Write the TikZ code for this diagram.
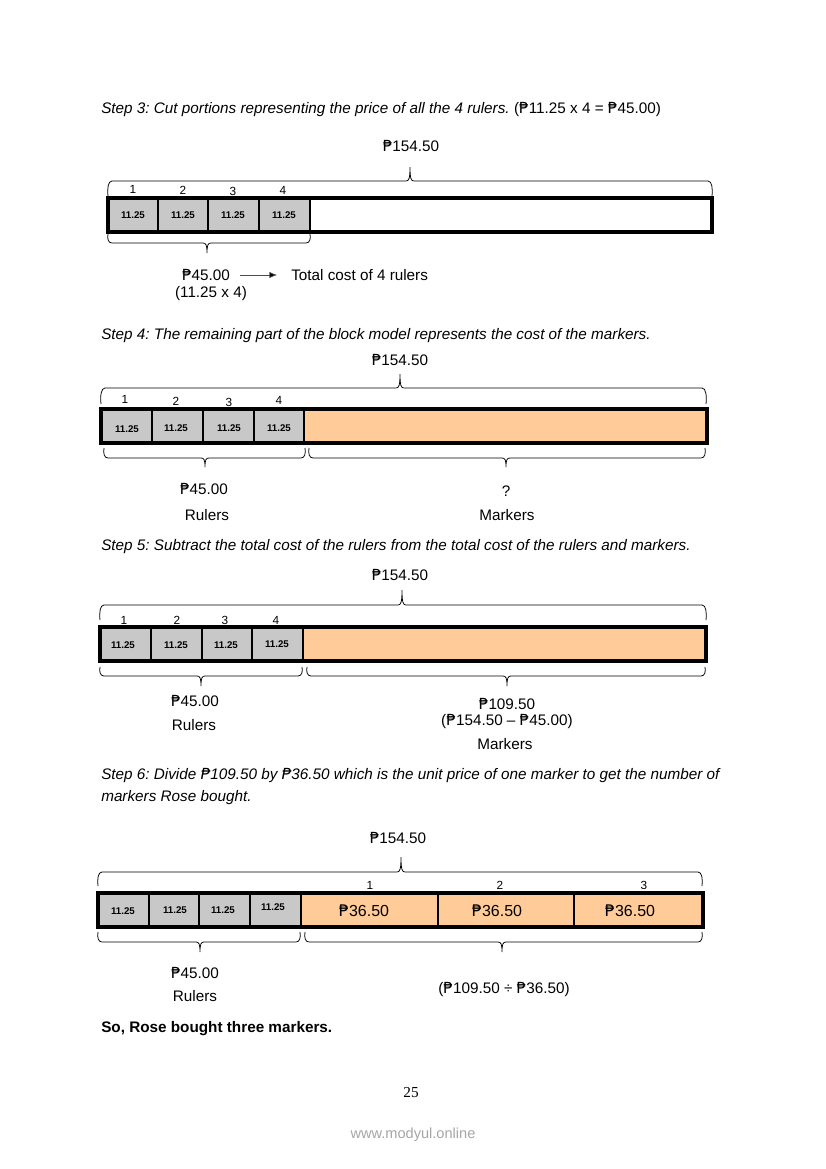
\documentclass[tikz,border=0pt]{standalone}
\usepackage{fontspec}
\setmainfont{Liberation Sans}
\newfontfamily\dejavu{DejaVu Sans}
\newfontfamily\pagefont{Liberation Serif}
\newcommand\peso{{\dejavu\char"20B1}}
\usetikzlibrary{arrows.meta}
\definecolor{cellgray}{HTML}{C8C8C8}
\definecolor{cellorange}{HTML}{FFCC99}
% brace: x1, x2, xtip, yline, yend, ytip
\newcommand\pbrace[6]{\draw[bracestyle] (#1,#5) .. controls ({#1-0.8},{#4+0.5*(#5-#4)}) and (#1,#4) .. ({#1+4},#4) -- ({#3-4},#4) .. controls ({#3-1},#4) and (#3,{#4+0.2*(#6-#4)}) .. (#3,#6) .. controls (#3,{#4+0.2*(#6-#4)}) and ({#3+1},#4) .. ({#3+4},#4) -- ({#2-4},#4) .. controls (#2,#4) and ({#2+0.8},{#4+0.5*(#5-#4)}) .. (#2,#5);}
\frenchspacing
\begin{document}
\begin{tikzpicture}[x=0.72pt,y=-0.72pt,
  body/.style={inner sep=0pt, font=\fontsize{11}{13}\selectfont},
  title/.style={inner sep=0pt, anchor=base west, font=\itshape\fontsize{11}{13}\selectfont},
  num/.style={inner sep=0pt, font=\fontsize{8.5}{10}\selectfont},
  val/.style={inner sep=0pt, font=\bfseries\fontsize{7}{8}\selectfont},
  big/.style={inner sep=0pt, font=\fontsize{11.5}{13}\selectfont},
  grayc/.style={fill=cellgray, draw=black, line width=1.4pt},
  orc/.style={fill=cellorange, draw=black, line width=1.4pt},
  whc/.style={fill=white, draw=black, line width=1.4pt},
  outerbox/.style={draw=black, line width=2.2pt},
  bracestyle/.style={line width=0.55pt},
]
\useasboundingbox[fill=white] (0,0) rectangle (826,1169);

% ---------------- Step 3 ----------------
\node[title] (t3) at (101,113) {Step 3: Cut portions representing the price of all the 4 rulers.\upshape{} (\peso11.25 x 4 = \peso45.00)};
\node[body] (d1tot) at (411,146) {\peso154.50};
\pbrace{108}{712}{410}{181}{196}{167}
\node[num] (d1n1) at (133,189) {1};
\node[num] (d1n2) at (183,190) {2};
\node[num] (d1n3) at (233,191) {3};
\node[num] (d1n4) at (283,190) {4};
\draw[grayc] (108,198) rectangle (158,232);
\draw[grayc] (158,198) rectangle (208,232);
\draw[grayc] (208,198) rectangle (259,232);
\draw[grayc] (259,198) rectangle (310,232);
\draw[whc] (310,198) rectangle (712,232);
\draw[outerbox] (108,198) rectangle (712,232);
\node[val] (d1v1) at (133,215) {11.25};
\node[val] (d1v2) at (183,215) {11.25};
\node[val] (d1v3) at (233,215) {11.25};
\node[val] (d1v4) at (284,215) {11.25};
\pbrace{108}{310}{207}{243}{234}{253}
\node[body] (d1sum) at (206,275) {\peso45.00};
\node[body, anchor=west] (d1txt) at (291,275) {Total cost of 4 rulers};
\node[body] (d1calc) at (211,294) {(11.25 x 4)};
\draw[line width=0.5pt, draw=black!70, -{Latex[length=5.5pt,width=4.5pt,fill=black]}, shorten <=7pt, shorten >=10pt] (d1sum.east) -- (d1txt.west);

% ---------------- Step 4 ----------------
\node[title] (t4) at (101,339) {Step 4: The remaining part of the block model represents the cost of the markers.};
\node[body] (d2tot) at (400,360) {\peso154.50};
\pbrace{101}{706}{400}{388}{404}{374}
\node[num] (d2n1) at (125,399) {1};
\node[num] (d2n2) at (176,401) {2};
\node[num] (d2n3) at (229,402) {3};
\node[num] (d2n4) at (279,400) {4};
\draw[grayc] (101,409) rectangle (152,443);
\draw[grayc] (152,409) rectangle (203,443);
\draw[grayc] (203,409) rectangle (254,443);
\draw[grayc] (254,409) rectangle (304,443);
\draw[orc] (304,409) rectangle (707,443);
\draw[outerbox] (101,409) rectangle (707,443);
\node[val] (d2v1) at (127,429) {11.25};
\node[val] (d2v2) at (176,428) {11.25};
\node[val] (d2v3) at (229,428) {11.25};
\node[val] (d2v4) at (279,428) {11.25};
\pbrace{104}{305}{205}{458}{448}{467}
\pbrace{309}{705}{506}{458}{448}{467}
\node[body] (d2sum) at (204,489) {\peso45.00};
\node[body] (d2q) at (506,491) {?};
\node[body] (d2r) at (207,515) {Rulers};
\node[body] (d2m) at (507,515) {Markers};

% ---------------- Step 5 ----------------
\node[title] (t5) at (101,550) {Step 5: Subtract the total cost of the rulers from the total cost of the rulers and markers.};
\node[body] (d3tot) at (400,575) {\peso154.50};
\pbrace{100}{706}{402}{605}{620}{590}
\node[num] (d3n1) at (124,620) {1};
\node[num] (d3n2) at (177,620) {2};
\node[num] (d3n3) at (225,620) {3};
\node[num] (d3n4) at (276,620) {4};
\draw[grayc] (100,627) rectangle (151,661);
\draw[grayc] (151,627) rectangle (202,661);
\draw[grayc] (202,627) rectangle (252,661);
\draw[grayc] (252,627) rectangle (303,661);
\draw[orc] (303,627) rectangle (706,661);
\draw[outerbox] (100,627) rectangle (706,661);
\node[val] (d3v1) at (123,645) {11.25};
\node[val] (d3v2) at (176,645) {11.25};
\node[val] (d3v3) at (226,645) {11.25};
\node[val] (d3v4) at (277,644) {11.25};
\pbrace{100}{302}{201}{676}{667}{686}
\pbrace{307}{705}{507}{676}{667}{686}
\node[body] (d3sum) at (195,701) {\peso45.00};
\node[body] (d3r) at (194,725) {Rulers};
\node[body] (d3diff) at (507,704) {\peso109.50};
\node[body] (d3calc) at (507,722) {(\peso154.50 -- \peso45.00)};
\node[body] (d3m) at (505,744) {Markers};

% ---------------- Step 6 ----------------
\node[title] (t6a) at (101,779) {Step 6: Divide \peso109.50 by \peso36.50 which is the unit price of one marker to get the number of};
\node[title] (t6b) at (101,801) {markers Rose bought.};
\node[body] (d4tot) at (398,838) {\peso154.50};
\pbrace{98}{702}{401}{872}{886}{857}
\node[num] (d4n1) at (370,885) {1};
\node[num] (d4n2) at (500,885) {2};
\node[num] (d4n3) at (644,885) {3};
\draw[grayc] (98,893) rectangle (149,927);
\draw[grayc] (149,893) rectangle (199,927);
\draw[grayc] (199,893) rectangle (250,927);
\draw[grayc] (250,893) rectangle (301,927);
\draw[orc] (301,893) rectangle (438,927);
\draw[orc] (438,893) rectangle (574,927);
\draw[orc] (574,893) rectangle (703,927);
\draw[outerbox] (98,893) rectangle (703,927);
\node[val] (d4v1) at (123,911) {11.25};
\node[val] (d4v2) at (175,910) {11.25};
\node[val] (d4v3) at (223,910) {11.25};
\node[val] (d4v4) at (273,907) {11.25};
\node[big] (d4p1) at (364,911) {\peso36.50};
\node[big] (d4p2) at (497,911) {\peso36.50};
\node[big] (d4p3) at (630,911) {\peso36.50};
\pbrace{98}{300}{200}{942}{932}{952}
\pbrace{305}{702}{502}{942}{932}{952}
\node[body] (d4sum) at (195,973) {\peso45.00};
\node[body] (d4r) at (195,996) {Rulers};
\node[body] (d4calc) at (504,989) {(\peso109.50 ÷ \peso36.50)};

\node[inner sep=0pt, anchor=base west, font=\bfseries\fontsize{11}{13}\selectfont] (concl) at (101,1032) {So, Rose bought three markers.};
\node[inner sep=0pt, font=\pagefont\fontsize{11}{13}\selectfont] (pg) at (411,1093) {25};
\node[inner sep=0pt, text=black!35, font=\fontsize{10.5}{12.6}\selectfont] (wm) at (413,1135) {www.modyul.online};
\end{tikzpicture}
\end{document}
